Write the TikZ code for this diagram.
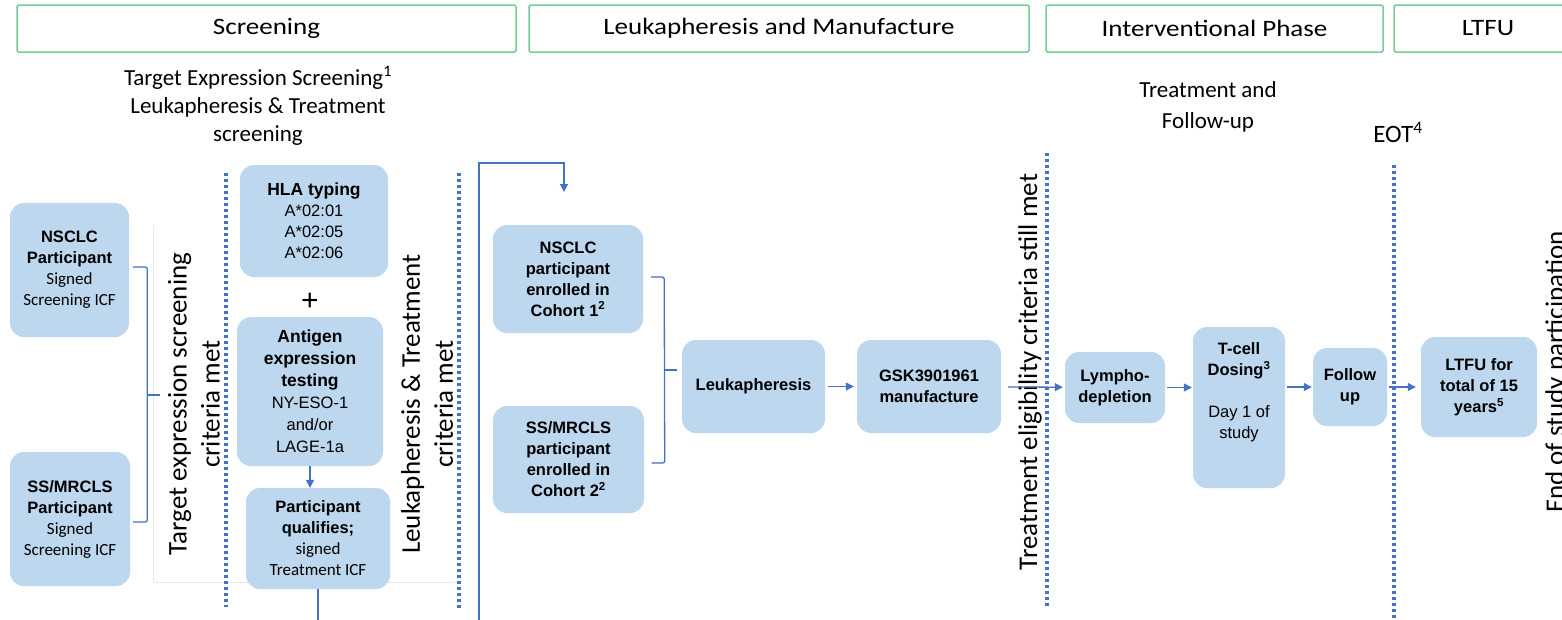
\documentclass[tikz,border=0pt]{standalone}
\usepackage{fontspec}
\setmainfont{Carlito}
\newfontfamily\arial{Liberation Sans}
\usetikzlibrary{arrows.meta,calc}
\definecolor{boxblue}{HTML}{BDD7EE}
\definecolor{lineblue}{HTML}{4472C4}
\definecolor{hdrgreen}{HTML}{74CE98}
\definecolor{faintgray}{HTML}{E8E8E8}
\newcommand{\reg}{\normalfont\fontsize{17}{21}\selectfont}
\newcommand{\ar}{\arial\mdseries\fontsize{16.5}{21}\selectfont}
\newcommand{\hs}[1]{\scalebox{1.15}[1]{#1}}
\tikzset{
 box/.style={fill=boxblue, draw=none, rounded corners=14pt, align=center, inner sep=0pt,
   font=\arial\bfseries\fontsize{16.5}{21}\selectfont},
 hdr/.style={draw=hdrgreen, line width=1.5pt, rounded corners=1.5pt, minimum height=47pt,
   inner sep=0pt, font=\fontsize{23.5}{27}\selectfont},
 ln/.style={draw=lineblue, line width=1.3pt},
 arr/.style={ln, -{Triangle[length=8pt,width=8pt]}},
 dotl/.style={draw=lineblue, line width=4pt, dash pattern=on 3.3pt off 2.7pt},
 rot/.style={rotate=90, align=center, font=\fontsize{27}{33}\selectfont, inner sep=0pt},
 sub/.style={align=center, font=\fontsize{23}{28}\selectfont, inner sep=0pt},
}
\begin{document}
\begin{tikzpicture}[x=1pt,y=-1pt]
\useasboundingbox (0,0) rectangle (1562,619);
\fill[white] (0,0) rectangle (1562,619);
\clip (0,0) rectangle (1562,619);

% headers
\node[hdr, minimum width=499pt] (h1) at (266.5,28.5) {\hs{Screening}};
\node[hdr, minimum width=500pt] (h2) at (779,28.5) {\hs{Leukapheresis and Manufacture}};
\node[hdr, minimum width=337pt] (h3) at (1214.5,28.5) {\hs{Interventional Phase}};
\node[hdr, minimum width=188pt] (h4) at (1488,28.5) {\hs{LTFU}};

% sub titles
\node[sub] (s1) at (258,106) {Target Expression Screening\textsuperscript{1}\\Leukapheresis \& Treatment\\screening};
\node[sub, font=\fontsize{23}{31}\selectfont] (s2) at (1208,107) {Treatment and\\Follow-up};
\node[sub, font=\fontsize{25}{30}\selectfont] (s3) at (1398,132) {EOT\textsuperscript{4}};

% faint frame
\draw[faintgray, line width=1pt] (153,225) -- (153,582) -- (455,582);

% dotted separators
\draw[dotl] (226,173) -- (226,607);
\draw[dotl] (459,173) -- (459,610);
\draw[dotl] (1047,153) -- (1047,607);
\draw[dotl] (1394,165) -- (1394,625);

% rotated labels
\node[rot] (r1) at (194,404) {Target expression screening\\criteria met};
\node[rot] (r2) at (427,404) {Leukapheresis \& Treatment\\criteria met};
\node[rot] (r3) at (1030,372) {Treatment eligibility criteria still met};
\node[rot] (r4) at (1557,372) {End of study participation};

% boxes
\node[box, minimum width=119pt, minimum height=134pt] (p1) at (69.5,270) {NSCLC\\Participant\\\reg Signed\\\reg Screening ICF};
\node[box, minimum width=120pt, minimum height=134pt] (p2) at (70,519) {SS/MRCLS\\Participant\\\reg Signed\\\reg Screening ICF};
\node[box, minimum width=148pt, minimum height=112pt] (hla) at (314,221) {{\fontsize{17.5}{21}\selectfont HLA typing}\\\ar A*02:01\\\ar A*02:05\\\ar A*02:06};
\node[font=\arial\fontsize{30}{30}\selectfont, inner sep=0pt] (plus) at (310,302) {+};
\node[box, minimum width=146pt, minimum height=149pt, font=\arial\bfseries\fontsize{17.5}{22}\selectfont] (ant) at (310,391.5) {Antigen\\expression\\testing\\\ar NY-ESO-1\\\ar and/or\\\ar LAGE-1a};
\node[box, minimum width=144pt, minimum height=101pt] (pq) at (318,538.5) {Participant\\qualifies;\\\reg signed\\\reg Treatment ICF};

\node[box, minimum width=150pt, minimum height=108pt] (c1) at (568,279) {NSCLC\\participant\\enrolled in\\Cohort 1\textsuperscript{2}};
\node[box, minimum width=151pt, minimum height=107pt] (c2) at (568.5,459.5) {SS/MRCLS\\participant\\enrolled in\\Cohort 2\textsuperscript{2}};
\node[box, minimum width=143pt, minimum height=93pt] (leuk) at (753.5,386.5) {Leukapheresis};
\node[box, minimum width=144pt, minimum height=93pt] (gsk) at (929,386.5) {GSK3901961\\manufacture};

\node[box, minimum width=100pt, minimum height=71pt] (lym) at (1115,387.5) {Lympho-\\depletion};
\node[box, minimum width=92pt, minimum height=161pt] (tc) at (1239,407.5) {};
\node[align=center, inner sep=0pt, font=\arial\bfseries\fontsize{16.5}{21}\selectfont] (tct) at (1239,392) {T-cell\\Dosing\textsuperscript{3}\\[21pt]\ar Day 1 of\\\ar study};
\node[box, minimum width=74pt, minimum height=78pt] (fu) at (1350,387) {Follow\\up};
\node[box, minimum width=116pt, minimum height=100pt] (ltfu) at (1479,387) {LTFU for\\total of 15\\years\textsuperscript{5}};

% brackets
\draw[ln, rounded corners=2pt] ($(p1.east)+(4,-3)$) -- ++(14,0) -- ($(p2.east)+(17,3)$) -- ($(p2.east)+(3,3)$);
\draw[ln] (147,395) -- (160,395);
\draw[ln, rounded corners=2pt] ($(c1.east)+(8,-2)$) -- ++(13,0) -- ($(c2.east)+(20.5,3.5)$) -- ($(c2.east)+(7.5,3.5)$);
\draw[ln] (664,370) -- (677,370);

% arrows
\draw[arr] (ant.south) -- (ant.south |- pq.north);
\coordinate (tip) at (564,192);
\coordinate (lp) at (479,163);
\draw[arr] (pq.south) -- ++(0,60) -| (lp) -| (tip);
\draw[arr, shorten <=3pt, shorten >=3pt] (leuk) -- (gsk);
\draw[arr, shorten <=7pt, shorten >=2pt] (gsk) -- (lym);
\draw[arr, shorten <=2pt, shorten >=1pt] (lym.east) -- (tc.west |- lym.east);
\draw[arr, shorten <=2pt, shorten >=1pt] (tc.east |- fu.west) -- (fu.west);
\draw[arr, shorten <=2pt, shorten >=5pt] (fu) -- (ltfu);
\end{tikzpicture}
\end{document}
